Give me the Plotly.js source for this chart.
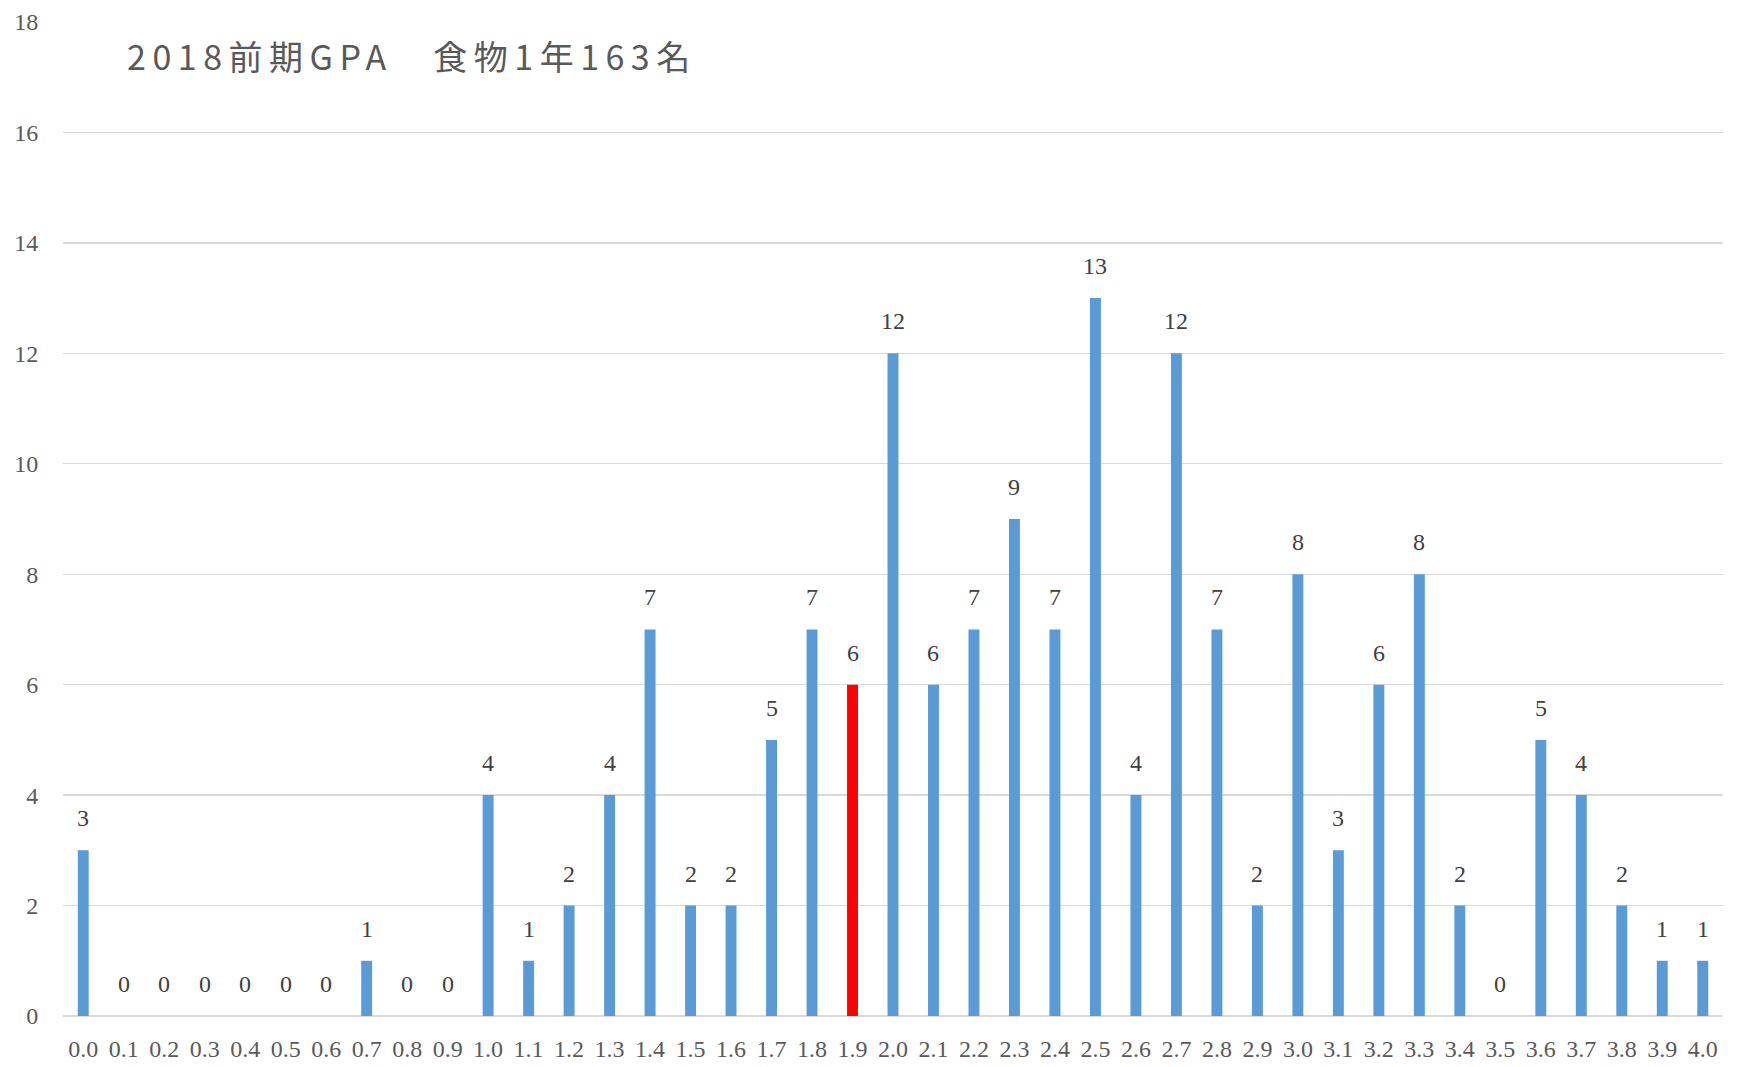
<!DOCTYPE html>
<html>
<head>
<meta charset="utf-8">
<script src="https://cdn.plot.ly/plotly-3.0.1.min.js"></script>
<style>html,body{margin:0;padding:0;background:#fff;}#chart{width:1737px;height:1067px;}</style>
</head>
<body>
<div id="chart"></div>
<script>
const categories = ["0.0","0.1","0.2","0.3","0.4","0.5","0.6","0.7","0.8","0.9","1.0","1.1","1.2","1.3","1.4","1.5","1.6","1.7","1.8","1.9","2.0","2.1","2.2","2.3","2.4","2.5","2.6","2.7","2.8","2.9","3.0","3.1","3.2","3.3","3.4","3.5","3.6","3.7","3.8","3.9","4.0"];
const counts = [3,0,0,0,0,0,0,1,0,0,4,1,2,4,7,2,2,5,7,6,12,6,7,9,7,13,4,12,7,2,8,3,6,8,2,0,5,4,2,1,1];
const highlightCategory = "1.9";
const titleText = "2018前期GPA　食物1年163名";
const yTicks = [0,2,4,6,8,10,12,14,16,18];

const barColors = categories.map(c => c === highlightCategory ? "#FF0000" : "#5B9BD5");
const serif = "Liberation Serif, Times New Roman, serif";

const trace = {
  type: "bar",
  x: categories,
  y: counts,
  marker: {color: barColors},
  hoverinfo: "x+y"
};

const annotations = categories.map((c, i) => ({
  x: i, y: counts[i], xref: "x", yref: "y",
  text: String(counts[i]), showarrow: false,
  yanchor: "middle", yshift: 32,
  font: {family: serif, size: 24, color: "#404040"}
}));

const layout = {
  width: 1737, height: 1067,
  margin: {l: 63, r: 14, t: 22, b: 51},
  paper_bgcolor: "#ffffff", plot_bgcolor: "#ffffff",
  bargap: 0.73,
  showlegend: false,
  title: {
    text: titleText,
    xref: "paper", x: 0.0386, xanchor: "left",
    yref: "container", y: 1 - 58/1067, yanchor: "middle",
    font: {family: "Noto Sans CJK JP, Noto Sans, sans-serif", size: 34, color: "#595959", weight: 400}
  },
  xaxis: {
    type: "category",
    range: [-0.5, 40.5],
    showgrid: false, showline: false, zeroline: false,
    ticks: "outside", ticklen: 11, tickcolor: "rgba(0,0,0,0)",
    tickfont: {family: serif, size: 24, color: "#595959"},
    tickangle: 0,
    fixedrange: true
  },
  yaxis: {
    range: [0, 18],
    tickvals: yTicks,
    ticktext: yTicks.map(String),
    showgrid: true, gridcolor: "#d9d9d9", gridwidth: 1.3,
    zeroline: true, zerolinecolor: "#d9d9d9", zerolinewidth: 1.5,
    showline: false,
    ticks: "outside", ticklen: 19, tickcolor: "rgba(0,0,0,0)",
    tickfont: {family: serif, size: 24, color: "#595959"},
    fixedrange: true
  },
  annotations: annotations
};

Plotly.newPlot("chart", [trace], layout, {displayModeBar: false, staticPlot: true}).then(gd => {
  const t = gd.querySelector(".gtitle");
  if (t) t.style.letterSpacing = "6.5px";
});
</script>
</body>
</html>
